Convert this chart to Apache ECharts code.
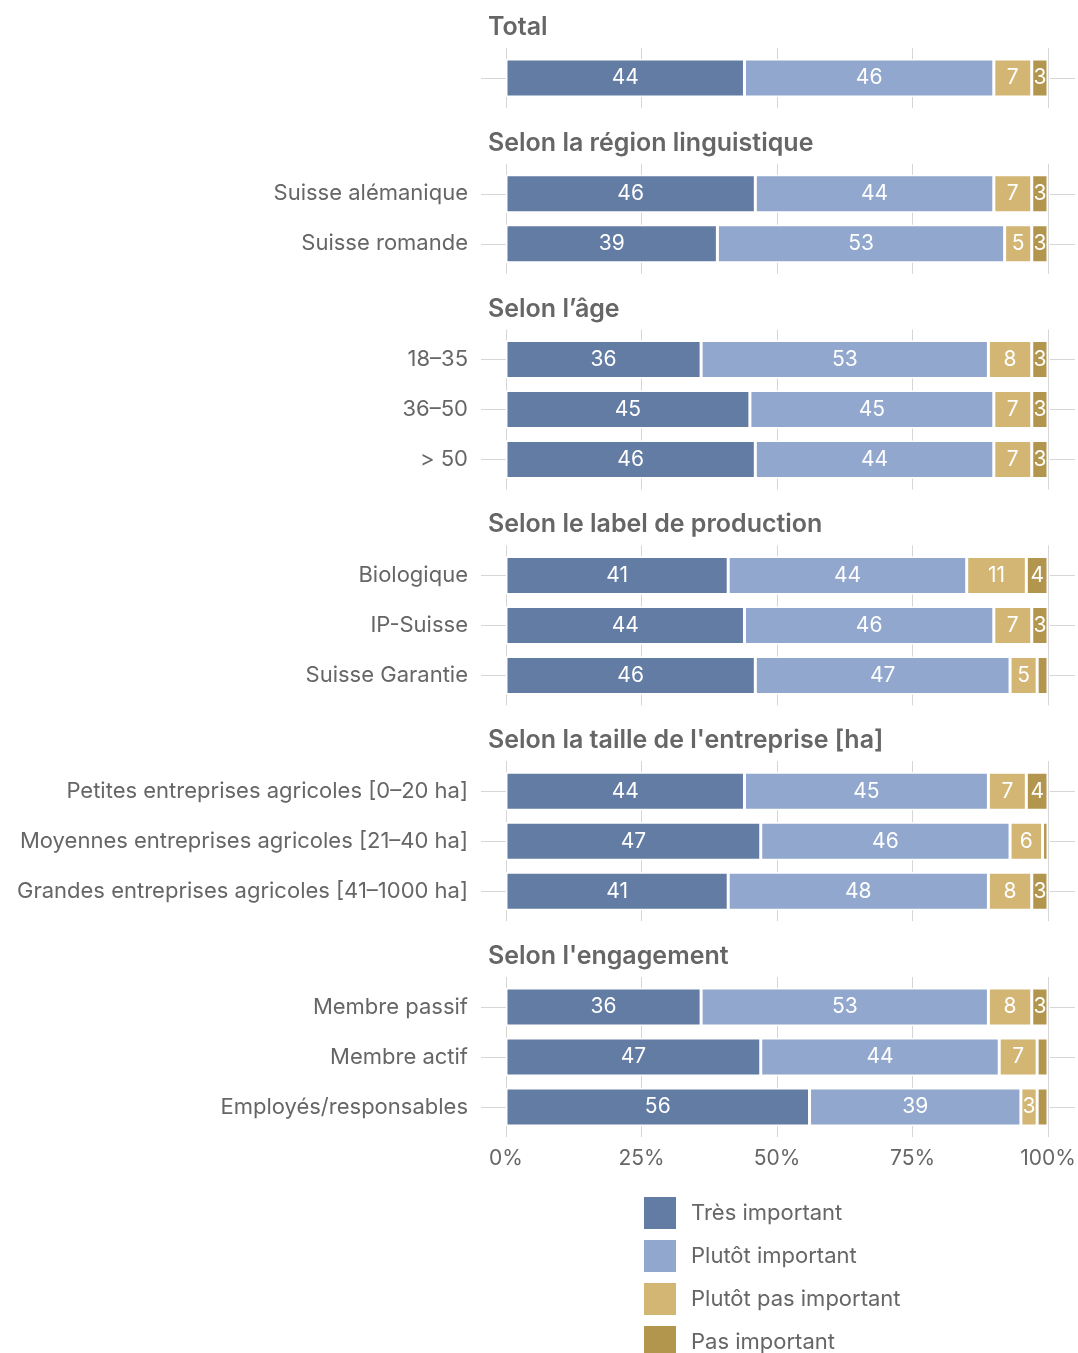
<!DOCTYPE html>
<html>
<head>
<meta charset="utf-8">
<script src="https://cdn.jsdelivr.net/npm/echarts@6/dist/echarts.min.js"></script>
<style>
  html, body { margin: 0; padding: 0; background: #fff; }
  #chart { width: 1078px; height: 1353px; }
</style>
</head>
<body>
<div id="chart"></div>
<script>
// Panel titles and row labels
const panelTitles = [
  'Total',
  'Selon la région linguistique',
  'Selon l’âge',
  'Selon le label de production',
  "Selon la taille de l'entreprise [ha]",
  "Selon l'engagement"
];
const panelRows = [
  [''],
  ['Suisse alémanique', 'Suisse romande'],
  ['18–35', '36–50', '> 50'],
  ['Biologique', 'IP-Suisse', 'Suisse Garantie'],
  ['Petites entreprises agricoles [0–20 ha]', 'Moyennes entreprises agricoles [21–40 ha]', 'Grandes entreprises agricoles [41–1000 ha]'],
  ['Membre passif', 'Membre actif', 'Employés/responsables']
];

// Shares in percent, one inner list per panel
const tresImportant    = [[44], [46, 39], [36, 45, 46], [41, 44, 46], [44, 47, 41], [36, 47, 56]];
const plutotImportant  = [[46], [44, 53], [53, 45, 44], [44, 46, 47], [45, 46, 48], [53, 44, 39]];
const plutotPasImport  = [[7],  [7, 5],   [8, 7, 7],    [11, 7, 5],   [7, 6, 8],    [8, 7, 3]];
const pasImportant     = [[3],  [3, 3],   [3, 3, 3],    [4, 3, 2],    [4, 1, 3],    [3, 2, 2]];

const seriesNames = ['Très important', 'Plutôt important', 'Plutôt pas important', 'Pas important'];
const seriesData = [tresImportant, plutotImportant, plutotPasImport, pasImportant];
const seriesColors = ['#637ca4', '#91a7cd', '#d3b574', '#b3964e'];

const xTicks = [0, 25, 50, 75, 100];

// Layout
const FONT = 'Inter, "Liberation Sans", Arial, sans-serif';
const TEXT_COLOR = '#666666';
const GRID_COLOR = '#d6d6d6';
const AXIS_LEFT = 506, AXIS_RIGHT_GAP = 1078 - 1048;
const BAND = 50, PAD = 5, FIRST_TOP = 48, PANEL_GAP = 55.8;

const grids = [], xAxes = [], yAxes = [], series = [], titles = [];
let panelTop = FIRST_TOP;

panelRows.forEach((rows, i) => {
  const n = rows.length;
  const isLast = i === panelRows.length - 1;

  titles.push({
    text: panelTitles[i],
    left: 488,
    top: panelTop - 33,
    padding: 0,
    textStyle: { fontFamily: FONT, fontSize: 25, fontWeight: 600, color: TEXT_COLOR }
  });

  // grid for the bars
  grids.push({ left: AXIS_LEFT, right: AXIS_RIGHT_GAP, top: panelTop + PAD, height: n * BAND, outerBoundsMode: 'none', containLabel: false });
  // grid carrying the vertical reference lines (slightly taller than the bars area)
  grids.push({ left: AXIS_LEFT, right: AXIS_RIGHT_GAP, top: panelTop, height: n * BAND + 2 * PAD, outerBoundsMode: 'none', containLabel: false });

  xAxes.push({ type: 'value', gridIndex: 2 * i, min: 0, max: 100, show: false });
  xAxes.push({
    type: 'value', gridIndex: 2 * i + 1, min: 0, max: 100, interval: 25,
    axisLine: { show: false }, axisTick: { show: false },
    splitLine: { show: true, lineStyle: { color: GRID_COLOR, width: 1 } },
    axisLabel: {
      show: isLast, margin: 11,
      formatter: v => xTicks.includes(v) ? v + '%' : '',
      fontFamily: FONT, fontSize: 21, color: TEXT_COLOR
    }
  });

  // left category axis: row labels and short guide line
  yAxes.push({
    type: 'category', gridIndex: 2 * i, data: rows, inverse: true, offset: 3,
    axisLine: { show: false },
    axisTick: { show: true, alignWithLabel: true, length: 25, lineStyle: { color: GRID_COLOR, width: 1 } },
    axisLabel: { margin: 35, fontFamily: FONT, fontSize: 22, color: TEXT_COLOR },
    splitLine: { show: false }
  });
  // right category axis: short guide line only
  yAxes.push({
    type: 'category', gridIndex: 2 * i, data: rows, inverse: true, position: 'right', offset: 2,
    axisLine: { show: false },
    axisTick: { show: true, alignWithLabel: true, length: 25, lineStyle: { color: GRID_COLOR, width: 1 } },
    axisLabel: { show: false },
    splitLine: { show: false }
  });
  yAxes.push({ type: 'value', gridIndex: 2 * i + 1, show: false, splitLine: { show: false } });

  seriesNames.forEach((name, k) => {
    series.push({
      name: name,
      type: 'bar',
      stack: 'panel' + i,
      xAxisIndex: 2 * i,
      yAxisIndex: 3 * i,
      barWidth: 38,
      z: 3,
      data: seriesData[k][i],
      itemStyle: { color: seriesColors[k], borderColor: '#ffffff', borderWidth: 1.5 },
      label: {
        show: true, position: 'inside',
        formatter: p => (p.value >= 3 ? String(p.value) : ''),
        fontFamily: FONT, fontSize: 21, color: '#ffffff'
      },
      emphasis: { disabled: true }
    });
  });

  panelTop += n * BAND + 2 * PAD + PANEL_GAP;
});

const chart = echarts.init(document.getElementById('chart'), null, { renderer: 'canvas' });
chart.setOption({
  backgroundColor: '#ffffff',
  animation: false,
  title: titles,
  grid: grids,
  xAxis: xAxes,
  yAxis: yAxes,
  legend: {
    data: seriesNames,
    orient: 'vertical',
    left: 642,
    top: 1195,
    height: 200,
    padding: 0,
    itemWidth: 34,
    itemHeight: 34,
    itemGap: 7,
    icon: 'rect',
    selectedMode: false,
    textStyle: { fontFamily: FONT, fontSize: 22, color: TEXT_COLOR, padding: [0, 0, 0, 9] }
  },
  series: series
});
</script>
</body>
</html>
